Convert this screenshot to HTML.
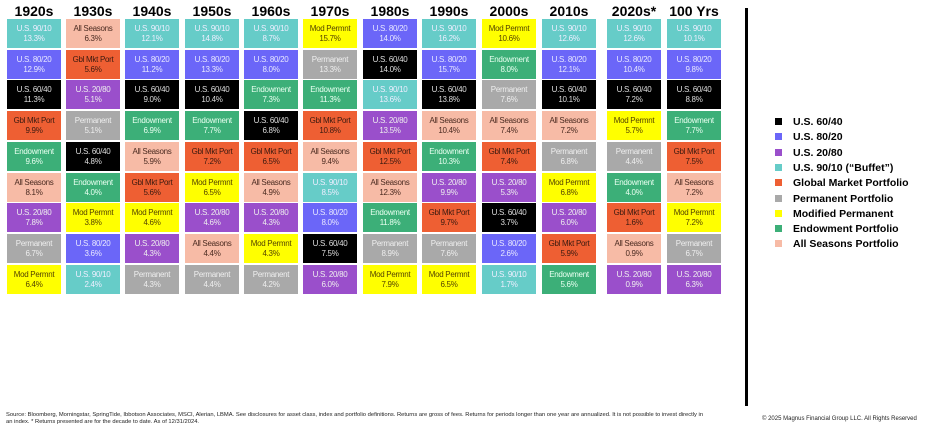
<!DOCTYPE html>
<html><head><meta charset="utf-8"><style>
body{margin:0;width:938px;height:433px;background:#fff;position:relative;overflow:hidden;font-family:"Liberation Sans",sans-serif}
.h{position:absolute;top:3px;width:60px;text-align:center;font-weight:bold;font-size:14px;color:#000}
.c{position:absolute;width:54px;height:29px;font-size:8px;line-height:10px;text-align:center;box-sizing:border-box;padding-top:5px;letter-spacing:-0.3px}
.t9{background:#66CCC8;color:#eef}
.t8{background:#6B66F8;color:#e8e8ff}
.t6{background:#000;color:#ddd}
.t2{background:#9A4FCB;color:#eee}
.tg{background:#EE5F33;color:#3a1a10}
.tp{background:#A9A9A9;color:#eee}
.tm{background:#FFFF00;color:#554400}
.te{background:#3CAF78;color:#e8fff0}
.ta{background:#F7BBA6;color:#4a2a20}
.lg{position:absolute;left:775px;font-size:10.5px;font-weight:bold;color:#000}
.lg i{position:absolute;left:0;top:2px;width:7px;height:7px}
.lg span{position:absolute;left:18px;white-space:nowrap}
</style></head><body>
<div id="g"></div>
<div style="position:absolute;left:745px;top:8px;width:3px;height:398px;background:#000"></div>
<div style="position:absolute;left:6px;top:412px;width:705px;font-size:5.8px;line-height:7px;color:#222">Source: Bloomberg, Morningstar, SpringTide, Ibbotson Associates, MSCI, Alerian, LBMA. See disclosures for asset class, index and portfolio definitions. Returns are gross of fees. Returns for periods longer than one year are annualized. It is not possible to invest directly in an index. * Returns presented are for the decade to date. As of 12/31/2024.</div>
<div style="position:absolute;left:762px;top:416px;font-size:6px;color:#222">© 2025 Magnus Financial Group LLC. All Rights Reserved</div>
<script>
var L=[["t6","U.S. 60/40"],["t8","U.S. 80/20"],["t2","U.S. 20/80"],["t9","U.S. 90/10 (“Buffet”)"],["tg","Global Market Portfolio"],["tp","Permanent Portfolio"],["tm","Modified Permanent"],["te","Endowment Portfolio"],["ta","All Seasons Portfolio"]];
var N={t9:"U.S. 90/10",t8:"U.S. 80/20",t6:"U.S. 60/40",t2:"U.S. 20/80",tg:"Gbl Mkt Port",tp:"Permanent",tm:"Mod Permnt",te:"Endowment",ta:"All Seasons"};
var H=["1920s","1930s","1940s","1950s","1960s","1970s","1980s","1990s","2000s","2010s","2020s*","100 Yrs"];
var X=[7,66,125,185,244,303,363,422,482,542,607,667];
var D=[
"t9 13.3,t8 12.9,t6 11.3,tg 9.9,te 9.6,ta 8.1,t2 7.8,tp 6.7,tm 6.4",
"ta 6.3,tg 5.6,t2 5.1,tp 5.1,t6 4.8,te 4.0,tm 3.8,t8 3.6,t9 2.4",
"t9 12.1,t8 11.2,t6 9.0,te 6.9,ta 5.9,tg 5.6,tm 4.6,t2 4.3,tp 4.3",
"t9 14.8,t8 13.3,t6 10.4,te 7.7,tg 7.2,tm 6.5,t2 4.6,ta 4.4,tp 4.4",
"t9 8.7,t8 8.0,te 7.3,t6 6.8,tg 6.5,ta 4.9,t2 4.3,tm 4.3,tp 4.2",
"tm 15.7,tp 13.3,te 11.3,tg 10.8,ta 9.4,t9 8.5,t8 8.0,t6 7.5,t2 6.0",
"t8 14.0,t6 14.0,t9 13.6,t2 13.5,tg 12.5,ta 12.3,te 11.8,tp 8.9,tm 7.9",
"t9 16.2,t8 15.7,t6 13.8,ta 10.4,te 10.3,t2 9.9,tg 9.7,tp 7.6,tm 6.5",
"tm 10.6,te 8.0,tp 7.6,ta 7.4,tg 7.4,t2 5.3,t6 3.7,t8 2.6,t9 1.7",
"t9 12.6,t8 12.1,t6 10.1,ta 7.2,tp 6.8,tm 6.8,t2 6.0,tg 5.9,te 5.6",
"t9 12.6,t8 10.4,t6 7.2,tm 5.7,tp 4.4,te 4.0,tg 1.6,ta 0.9,t2 0.9",
"t9 10.1,t8 9.8,t6 8.8,te 7.7,tg 7.5,ta 7.2,tm 7.2,tp 6.7,t2 6.3"];
var s="";
for(var i=0;i<12;i++){s+='<div class="h" style="left:'+(X[i]-3)+'px">'+H[i]+'</div>';
D[i].split(",").forEach(function(e,r){var p=e.split(" ");s+='<div class="c '+p[0]+'" style="left:'+X[i]+'px;top:'+(19+r*30.7).toFixed(1)+'px">'+N[p[0]]+'<br>'+p[1]+'%</div>';});}
L.forEach(function(l,k){s+='<div class="lg" style="top:'+(116+k*15.3).toFixed(1)+'px"><i class="'+l[0]+'"></i><span>'+l[1]+'</span></div>';});
document.getElementById("g").innerHTML=s;
</script>
</body></html>
